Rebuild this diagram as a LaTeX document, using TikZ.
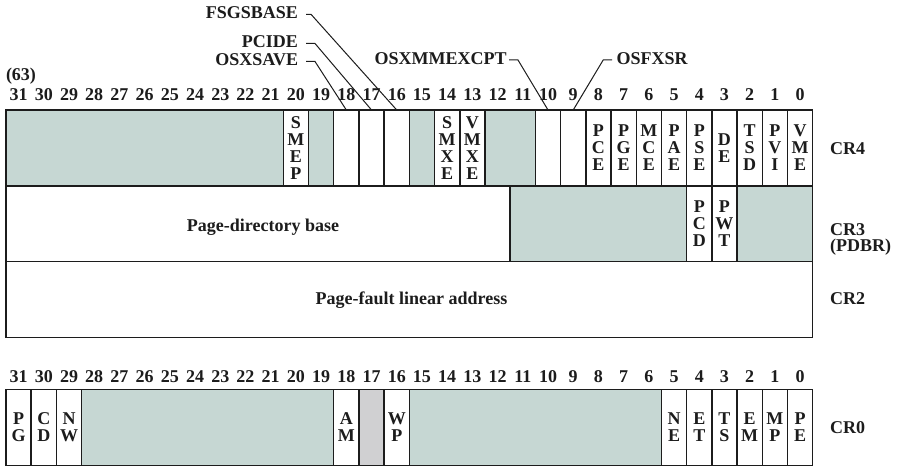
\documentclass[tikz,border=0pt]{standalone}
\usepackage{fontspec}
\setmainfont{Liberation Serif}
\definecolor{rsv}{HTML}{C6D7D3}
\definecolor{gry}{HTML}{D0D0D2}
\definecolor{ink}{HTML}{1C1C1C}
\newcommand\lblfont{\fontsize{18}{17}\selectfont\bfseries}
\newcommand\rcell[6]{\node[cell,fill=#4,minimum width={(#2-#3+1)*25.21pt}] (#5) at ({6+(31-#2)*25.21},#1) {#6};}
\begin{document}
\begin{tikzpicture}[x=1pt,y=-1pt,
  cell/.style={draw=ink,line width=1.5pt,anchor=north west,inner sep=0pt,outer sep=0pt,
    minimum height=75.8pt,align=center,font=\lblfont,text=ink},
  txt/.style={font=\lblfont,text=ink,inner sep=0pt,outer sep=0pt},
  lead/.style={draw=ink,line width=1pt}]
\useasboundingbox (0,0) rectangle (899,468);
% ---------- CR4 ----------
\rcell{110}{31}{21}{rsv}{c4-31}{}
\rcell{110}{20}{20}{white}{c4-20}{S\\M\\E\\P}
\rcell{110}{19}{19}{rsv}{c4-19}{}
\rcell{110}{18}{18}{white}{c4-18}{}
\rcell{110}{17}{17}{white}{c4-17}{}
\rcell{110}{16}{16}{white}{c4-16}{}
\rcell{110}{15}{15}{rsv}{c4-15}{}
\rcell{110}{14}{14}{white}{c4-14}{S\\M\\X\\E}
\rcell{110}{13}{13}{white}{c4-13}{V\\M\\X\\E}
\rcell{110}{12}{11}{rsv}{c4-12}{}
\rcell{110}{10}{10}{white}{c4-10}{}
\rcell{110}{9}{9}{white}{c4-9}{}
\rcell{110}{8}{8}{white}{c4-8}{P\\C\\E}
\rcell{110}{7}{7}{white}{c4-7}{P\\G\\E}
\rcell{110}{6}{6}{white}{c4-6}{M\\C\\E}
\rcell{110}{5}{5}{white}{c4-5}{P\\A\\E}
\rcell{110}{4}{4}{white}{c4-4}{P\\S\\E}
\rcell{110}{3}{3}{white}{c4-3}{D\\E}
\rcell{110}{2}{2}{white}{c4-2}{T\\S\\D}
\rcell{110}{1}{1}{white}{c4-1}{P\\V\\I}
\rcell{110}{0}{0}{white}{c4-0}{V\\M\\E}
% ---------- CR3 ----------
\rcell{185.8}{31}{12}{white}{c3-31}{}
\rcell{185.8}{11}{5}{rsv}{c3-11}{}
\rcell{185.8}{4}{4}{white}{c3-4}{P\\C\\D}
\rcell{185.8}{3}{3}{white}{c3-3}{P\\W\\T}
\rcell{185.8}{2}{0}{rsv}{c3-2}{}
\node[txt,anchor=base] (pdb) at (263,231) {Page-directory base};
% ---------- CR2 ----------
\rcell{261.6}{31}{0}{white}{c2}{}
\node[txt,anchor=base] (pfl) at (411.5,304) {Page-fault linear address};
% ---------- CR0 ----------
\rcell{389.5}{31}{31}{white}{c0-31}{P\\G}
\rcell{389.5}{30}{30}{white}{c0-30}{C\\D}
\rcell{389.5}{29}{29}{white}{c0-29}{N\\W}
\rcell{389.5}{28}{19}{rsv}{c0-28}{}
\rcell{389.5}{18}{18}{white}{c0-18}{A\\M}
\rcell{389.5}{17}{17}{gry}{c0-17}{}
\rcell{389.5}{16}{16}{white}{c0-16}{W\\P}
\rcell{389.5}{15}{6}{rsv}{c0-15}{}
\rcell{389.5}{5}{5}{white}{c0-5}{N\\E}
\rcell{389.5}{4}{4}{white}{c0-4}{E\\T}
\rcell{389.5}{3}{3}{white}{c0-3}{T\\S}
\rcell{389.5}{2}{2}{white}{c0-2}{E\\M}
\rcell{389.5}{1}{1}{white}{c0-1}{M\\P}
\rcell{389.5}{0}{0}{white}{c0-0}{P\\E}
% ---------- bit numbers ----------
\foreach \b in {0,...,31}{
  \node[txt,anchor=base] (n4-\b) at ({6+(31-\b)*25.21+12.6},100.5) {\b};
  \node[txt,anchor=base] (n0-\b) at ({6+(31-\b)*25.21+12.6},382.7) {\b};
}
\node[txt,anchor=base west] (n63) at (6,81) {(63)};
% ---------- register names ----------
\node[txt,anchor=base west] (cr4) at (830,154) {CR4};
\node[txt,anchor=base west] (cr3) at (830,235) {CR3};
\node[txt,anchor=base west] (pdbr) at (830,251.7) {(PDBR)};
\node[txt,anchor=base west] (cr2) at (830,304) {CR2};
\node[txt,anchor=base west] (cr0) at (830,433) {CR0};
% ---------- flag call-outs ----------
\node[txt,anchor=base east] (fsg) at (298,18.3) {FSGSBASE};
\node[txt,anchor=base east] (pci) at (298,47.5) {PCIDE};
\node[txt,anchor=base east] (osx) at (298,65.5) {OSXSAVE};
\node[txt,anchor=base east] (xmm) at (506.7,64.5) {OSXMMEXCPT};
\node[txt,anchor=base west] (fxs) at (616.7,64.5) {OSFXSR};
\draw[lead] ([xshift=8pt,yshift=4pt]fsg.base east) -- ++(5,0) -- (c4-16.north);
\draw[lead] ([xshift=8pt,yshift=4pt]pci.base east) -- ++(9,0) -- (c4-17.north);
\draw[lead] ([xshift=8pt,yshift=4pt]osx.base east) -- ++(9,0) -- (c4-18.north);
\draw[lead] ([xshift=2.3pt,yshift=4.5pt]xmm.base east) -- ++(9,0) -- (c4-10.north);
\draw[lead] ([xshift=-4.5pt,yshift=4.5pt]fxs.base west) -- ++(-9,0) -- (c4-9.north);
\end{tikzpicture}
\end{document}
